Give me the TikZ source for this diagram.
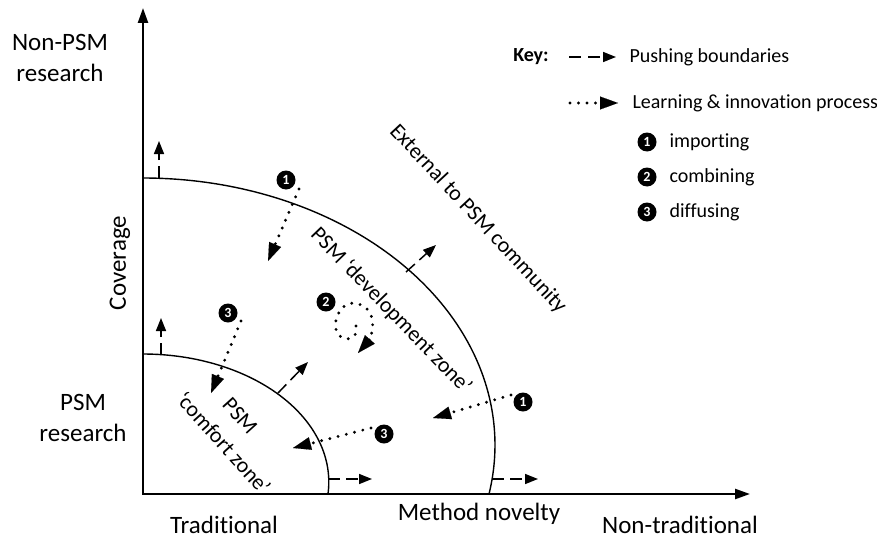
\documentclass[tikz,border=0pt]{standalone}
\usepackage{fontspec}
\setmainfont{Carlito}[Ligatures=NoCommon]
\usetikzlibrary{arrows.meta}
\begin{document}
\begin{tikzpicture}[x=1pt,y=-1pt,
  axis/.style={line width=2.4pt,{Triangle[length=15pt,width=10pt]}-{Triangle[length=15pt,width=10pt]}},
  zone/.style={line width=1.4pt},
  push/.style={line width=1.5pt,dash pattern=on 12pt off 6pt,-{Triangle[length=13pt,width=10pt]}},
  learn/.style={line width=3.2pt,line cap=round,dash pattern=on 0pt off 8.5pt,-{Triangle[length=18pt,width=13pt,line width=0.1pt]}},
  num/.style={circle,fill=black,text=white,inner sep=0pt,minimum size=19pt,font=\fontsize{14}{14}\selectfont\bfseries},
  big/.style={font=\fontsize{25}{31}\selectfont,align=center},
  mid/.style={font=\fontsize{22}{26}\selectfont},
  keyt/.style={font=\fontsize{20}{24}\selectfont,anchor=west}]
\useasboundingbox (0,0) rectangle (877,543);

% axes
\coordinate (O) at (143,494);
\coordinate (Ytop) at (143,8);
\coordinate (Xend) at (750,494);
\draw[axis] (Ytop) -- (O) -- (Xend);

% zones
\draw[zone] plot[domain=-5.38:90,samples=80] ({143+185.8*cos(\x)},{482-128*sin(\x)});
\draw[zone] plot[domain=-10.57:90,samples=100] ({143+352*cos(\x)},{445-267*sin(\x)});

% pushing boundaries arrows
\coordinate (p1s) at (161,355); \coordinate (p1e) at (161,318);
\coordinate (p2s) at (159,178); \coordinate (p2e) at (159,141);
\coordinate (p3s) at (278,393); \coordinate (p3e) at (308,362);
\coordinate (p4s) at (406,272); \coordinate (p4e) at (436,245);
\coordinate (p5s) at (328,479); \coordinate (p5e) at (372,479);
\coordinate (p6s) at (492,479); \coordinate (p6e) at (538,479);
\foreach \i in {1,...,6} \draw[push] (p\i s) -- (p\i e);

% learning arrows
\node[num] (n1a) at (286,180) {1};
\coordinate (d1s) at (299,189); \coordinate (d1e) at (268,261);
\draw[learn] (d1s) -- (d1e);

\node[num] (n2) at (326,302) {2};
\draw[learn] plot[smooth] coordinates {(356,326) (355,335) (346,339) (337,333) (336,320) (342,308) (353,303) (365,307) (372,318) (372,332) (367,342) (358,353)};

\node[num] (n3a) at (228,313) {3};
\coordinate (d3s) at (241,321); \coordinate (d3e) at (211,393);
\draw[learn] (d3s) -- (d3e);

\node[num] (n3b) at (384,434) {3};
\coordinate (d4s) at (371,428); \coordinate (d4e) at (293,448);
\draw[learn] (d4s) -- (d4e);

\node[num] (n1b) at (523,402) {1};
\coordinate (d5s) at (511,395); \coordinate (d5e) at (433,418);
\draw[learn] (d5s) -- (d5e);

% axis labels
\node[big] (nonpsm) at (60,58) {Non-PSM\\research};
\node[big,rotate=90] (cov) at (120,263) {Coverage};
\node[big] (psm) at (83,418) {PSM\\research};
\node[big] (trad) at (224,525) {Traditional};
\node[big] (mn) at (479,514) {Method novelty};
\node[big] (ntrad) at (680,525) {Non-traditional};

% zone labels
\node[mid,rotate=-47] (ext) at (478,219) {External to PSM community};
\node[mid,rotate=-46] (dev) at (391,311) {PSM ‘development zone’};
\node[mid,rotate=-48] (cpsm) at (240,416) {PSM};
\node[mid,rotate=-48] (comf) at (224,443) {‘comfort zone’};

% key
\node[font=\fontsize{20}{24}\selectfont\bfseries] (key) at (531,57) {Key:};
\coordinate (k1s) at (569,57); \coordinate (k1e) at (616,57);
\draw[push,dash pattern=on 12pt off 7pt] (k1s) -- (k1e);
\node[keyt] (kt1) at (626,57) {Pushing boundaries};
\coordinate (k2s) at (570,103); \coordinate (k2e) at (618,103);
\draw[learn] (k2s) -- (k2e);
\node[keyt] (kt2) at (629,103) {Learning \& innovation process};
\node[num] (k3) at (647,142) {1};
\node[keyt] (kt3) at (666,142) {importing};
\node[num] (k4) at (647,177) {2};
\node[keyt] (kt4) at (666,177) {combining};
\node[num] (k5) at (647,212) {3};
\node[keyt] (kt5) at (666,212) {diffusing};
\end{tikzpicture}
\end{document}
